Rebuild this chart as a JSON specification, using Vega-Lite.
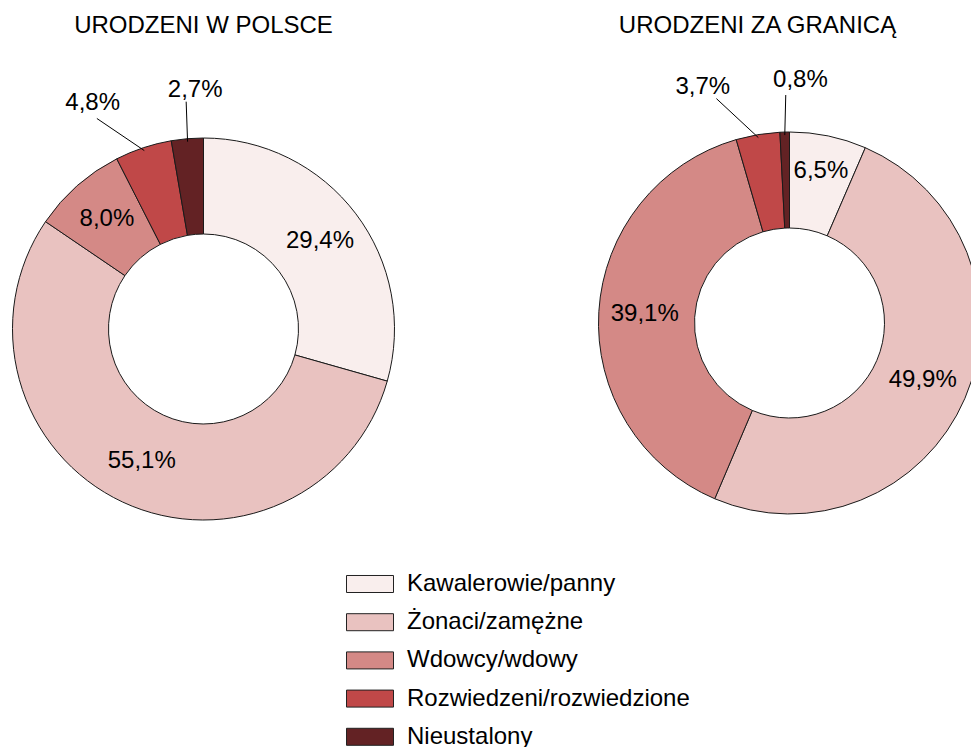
{
  "$schema": "https://vega.github.io/schema/vega-lite/v6.json",
  "padding": {"left": 3.5, "top": 14, "right": 0, "bottom": 0},
  "spacing": 186,
  "bounds": "flush",
  "data": {"values": [
    {"grupa": "URODZENI W POLSCE", "nr": 1, "stan": "Kawalerowie/panny", "procent": 29.4},
    {"grupa": "URODZENI W POLSCE", "nr": 2, "stan": "Żonaci/zamężne", "procent": 55.1},
    {"grupa": "URODZENI W POLSCE", "nr": 3, "stan": "Wdowcy/wdowy", "procent": 8.0},
    {"grupa": "URODZENI W POLSCE", "nr": 4, "stan": "Rozwiedzeni/rozwiedzione", "procent": 4.8},
    {"grupa": "URODZENI W POLSCE", "nr": 5, "stan": "Nieustalony", "procent": 2.7},
    {"grupa": "URODZENI ZA GRANICĄ", "nr": 1, "stan": "Kawalerowie/panny", "procent": 6.5},
    {"grupa": "URODZENI ZA GRANICĄ", "nr": 2, "stan": "Żonaci/zamężne", "procent": 49.9},
    {"grupa": "URODZENI ZA GRANICĄ", "nr": 3, "stan": "Wdowcy/wdowy", "procent": 39.1},
    {"grupa": "URODZENI ZA GRANICĄ", "nr": 4, "stan": "Rozwiedzeni/rozwiedzione", "procent": 3.7},
    {"grupa": "URODZENI ZA GRANICĄ", "nr": 5, "stan": "Nieustalony", "procent": 0.8}
  ]},
  "hconcat": [
    {
      "width": 400, "height": 470,
      "title": {"text": "URODZENI W POLSCE", "offset": 22},
      "transform": [
        {"filter": "datum.grupa == 'URODZENI W POLSCE'"},
        {"calculate": "replace(format(datum.procent, '.1f'), '.', ',') + '%'", "as": "etykieta"},
        {"window": [{"op": "sum", "field": "procent", "as": "cum"}], "sort": [{"field": "nr"}], "frame": [null, 0]},
        {"calculate": "datum.cum - datum.procent / 2", "as": "mid"}
      ],
      "layer": [
        {
          "mark": {"type": "arc", "innerRadius": 95, "outerRadius": 191, "stroke": "#1a1a1a", "strokeWidth": 1},
          "encoding": {
            "x": {"datum": 0, "type": "quantitative", "scale": {"domain": [-200, 200], "nice": false, "zero": false}, "axis": null},
            "y": {"datum": 0, "type": "quantitative", "scale": {"domain": [-201, 269], "nice": false, "zero": false}, "axis": null},
            "theta": {"field": "procent", "type": "quantitative", "stack": true, "scale": {"domain": [0, 100]}},
            "order": {"field": "nr", "type": "quantitative"},
            "color": {"field": "stan", "type": "nominal",
              "scale": {"domain": ["Kawalerowie/panny", "Żonaci/zamężne", "Wdowcy/wdowy", "Rozwiedzeni/rozwiedzione", "Nieustalony"],
                        "range": ["#f9eeed", "#e9c2c0", "#d48986", "#c04848", "#632224"]},
              "legend": {"title": null}}
          }
        },
        {
          "transform": [{"filter": "datum.procent >= 5"}],
          "mark": {"type": "text", "radius": 146, "fontSize": 24, "color": "#000"},
          "encoding": {
            "x": {"datum": 0, "type": "quantitative"},
            "y": {"datum": 0, "type": "quantitative"},
            "theta": {"field": "mid", "type": "quantitative", "stack": null},
            "text": {"field": "etykieta"}
          }
        },
        {
          "transform": [{"filter": "datum.stan == 'Rozwiedzeni/rozwiedzione'"}],
          "mark": {"type": "text", "radius": 237.6, "dx": -36, "fontSize": 24, "color": "#000"},
          "encoding": {
            "x": {"datum": 0, "type": "quantitative"},
            "y": {"datum": 0, "type": "quantitative"},
            "theta": {"field": "mid", "type": "quantitative", "stack": null},
            "text": {"field": "etykieta"}
          }
        },
        {
          "transform": [{"filter": "datum.stan == 'Nieustalony'"}],
          "mark": {"type": "text", "radius": 240, "dx": 12, "fontSize": 24, "color": "#000"},
          "encoding": {
            "x": {"datum": 0, "type": "quantitative"},
            "y": {"datum": 0, "type": "quantitative"},
            "theta": {"field": "mid", "type": "quantitative", "stack": null},
            "text": {"field": "etykieta"}
          }
        },
        {
          "transform": [
            {"filter": "datum.procent < 5"},
            {"calculate": "2 * PI * datum.mid / 100", "as": "a0"},
            {"calculate": "datum.a0 + (datum.procent >= 3 ? -8.5 : 0.5) * PI / 180", "as": "a1"},
            {"calculate": "datum.procent >= 3 ? 236 : 228", "as": "r2"},
            {"calculate": "188 * sin(datum.a0)", "as": "lx"},
            {"calculate": "188 * cos(datum.a0)", "as": "ly"},
            {"calculate": "datum.r2 * sin(datum.a1)", "as": "lx2"},
            {"calculate": "datum.r2 * cos(datum.a1)", "as": "ly2"}
          ],
          "mark": {"type": "rule", "color": "#000", "strokeWidth": 1},
          "encoding": {
            "x": {"field": "lx", "type": "quantitative"},
            "y": {"field": "ly", "type": "quantitative"},
            "x2": {"field": "lx2"},
            "y2": {"field": "ly2"}
          }
        }
      ]
    },
    {
      "width": 400, "height": 470,
      "title": {"text": "URODZENI ZA GRANICĄ", "offset": 22, "dx": -32},
      "transform": [
        {"filter": "datum.grupa == 'URODZENI ZA GRANICĄ'"},
        {"calculate": "replace(format(datum.procent, '.1f'), '.', ',') + '%'", "as": "etykieta"},
        {"window": [{"op": "sum", "field": "procent", "as": "cum"}], "sort": [{"field": "nr"}], "frame": [null, 0]},
        {"calculate": "datum.cum - datum.procent / 2", "as": "mid"}
      ],
      "layer": [
        {
          "mark": {"type": "arc", "innerRadius": 95, "outerRadius": 191, "stroke": "#1a1a1a", "strokeWidth": 1},
          "encoding": {
            "x": {"datum": 0, "type": "quantitative", "scale": {"domain": [-200, 200], "nice": false, "zero": false}, "axis": null},
            "y": {"datum": 0, "type": "quantitative", "scale": {"domain": [-207, 263], "nice": false, "zero": false}, "axis": null},
            "theta": {"field": "procent", "type": "quantitative", "stack": true, "scale": {"domain": [0, 100]}},
            "order": {"field": "nr", "type": "quantitative"},
            "color": {"field": "stan", "type": "nominal",
              "scale": {"domain": ["Kawalerowie/panny", "Żonaci/zamężne", "Wdowcy/wdowy", "Rozwiedzeni/rozwiedzione", "Nieustalony"],
                        "range": ["#f9eeed", "#e9c2c0", "#d48986", "#c04848", "#632224"]},
              "legend": {"title": null}}
          }
        },
        {
          "transform": [{"filter": "datum.procent >= 10"}],
          "mark": {"type": "text", "radius": 145, "fontSize": 24, "color": "#000"},
          "encoding": {
            "x": {"datum": 0, "type": "quantitative"},
            "y": {"datum": 0, "type": "quantitative"},
            "theta": {"field": "mid", "type": "quantitative", "stack": null},
            "text": {"field": "etykieta"}
          }
        },
        {
          "transform": [{"filter": "datum.stan == 'Kawalerowie/panny'"}],
          "mark": {"type": "text", "radius": 155, "fontSize": 24, "color": "#000"},
          "encoding": {
            "x": {"datum": 0, "type": "quantitative"},
            "y": {"datum": 0, "type": "quantitative"},
            "theta": {"field": "mid", "type": "quantitative", "stack": null},
            "text": {"field": "etykieta"}
          }
        },
        {
          "transform": [{"filter": "datum.stan == 'Rozwiedzeni/rozwiedzione'"}],
          "mark": {"type": "text", "radius": 239.3, "dx": -47, "fontSize": 24, "color": "#000"},
          "encoding": {
            "x": {"datum": 0, "type": "quantitative"},
            "y": {"datum": 0, "type": "quantitative"},
            "theta": {"field": "mid", "type": "quantitative", "stack": null},
            "text": {"field": "etykieta"}
          }
        },
        {
          "transform": [{"filter": "datum.stan == 'Nieustalony'"}],
          "mark": {"type": "text", "radius": 242.6, "dx": 17, "fontSize": 24, "color": "#000"},
          "encoding": {
            "x": {"datum": 0, "type": "quantitative"},
            "y": {"datum": 0, "type": "quantitative"},
            "theta": {"field": "mid", "type": "quantitative", "stack": null},
            "text": {"field": "etykieta"}
          }
        },
        {
          "transform": [
            {"filter": "datum.procent < 5"},
            {"calculate": "2 * PI * datum.mid / 100", "as": "a0"},
            {"calculate": "datum.a0 + (datum.procent >= 3 ? -8.5 : 0.5) * PI / 180", "as": "a1"},
            {"calculate": "datum.procent >= 3 ? 236 : 228", "as": "r2"},
            {"calculate": "188 * sin(datum.a0)", "as": "lx"},
            {"calculate": "188 * cos(datum.a0)", "as": "ly"},
            {"calculate": "datum.r2 * sin(datum.a1)", "as": "lx2"},
            {"calculate": "datum.r2 * cos(datum.a1)", "as": "ly2"}
          ],
          "mark": {"type": "rule", "color": "#000", "strokeWidth": 1},
          "encoding": {
            "x": {"field": "lx", "type": "quantitative"},
            "y": {"field": "ly", "type": "quantitative"},
            "x2": {"field": "lx2"},
            "y2": {"field": "ly2"}
          }
        }
      ]
    }
  ],
  "config": {
    "font": "Liberation Sans",
    "view": {"stroke": null},
    "title": {"fontSize": 24, "fontWeight": "normal", "color": "#000", "anchor": "middle"},
    "legend": {
      "orient": "none",
      "legendX": 342.5,
      "legendY": 500,
      "direction": "vertical",
      "padding": 0,
      "symbolType": "M-1,-0.362H1V0.362H-1Z",
      "symbolSize": 2209,
      "symbolStrokeColor": "#222",
      "symbolStrokeWidth": 1,
      "symbolOpacity": 1,
      "labelFontSize": 24,
      "labelColor": "#000",
      "labelOffset": 13,
      "labelLimit": 600,
      "rowPadding": 2.2
    }
  }
}
